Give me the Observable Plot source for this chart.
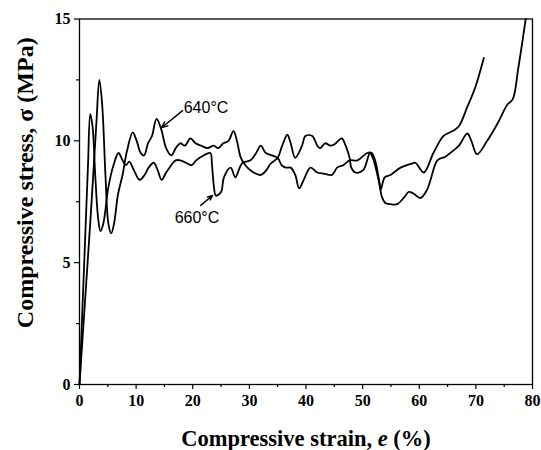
<!DOCTYPE html>
<html>
<head>
<meta charset="utf-8">
<script src="https://cdn.jsdelivr.net/npm/d3@7"></script>
<script src="https://cdn.jsdelivr.net/npm/@observablehq/plot@0.6"></script>
<style>
  html, body { margin: 0; padding: 0; background: #fff; }
  #chart { width: 541px; height: 450px; }
</style>
</head>
<body>
<div id="chart"></div>
<script>
// 640°C curve
const strain640 = [0, 1.0, 2.0, 3.0, 3.5, 4.0, 4.6, 5.1, 5.6, 6.1, 6.8, 7.6, 8.4, 9.4, 10.1, 10.8, 11.4, 12.1, 12.8, 13.6, 14.4, 15.3, 16.2, 17.0, 17.8, 18.6, 19.6, 20.5, 21.5, 22.6, 23.7, 24.5, 25.4, 26.3, 27.2, 27.8, 28.5, 29.3, 30.4, 32.0, 33.0, 33.7, 34.5, 35.0, 35.8, 36.7, 37.3, 38.1, 39.3, 39.9, 41.1, 42.0, 42.5, 43.4, 44.3, 45.0, 46.3, 47.0, 47.7, 48.0, 48.7, 50.1, 51.3, 51.8, 52.2, 52.9, 53.2, 53.9, 54.9, 56.7, 58.5, 59.3, 60.8, 62.5, 64.3, 65.9, 67.0, 68.5, 69.9, 71.4];
const stress640 = [0, 3.5, 7.0, 10.8, 12.5, 11.5, 8.5, 6.6, 6.2, 6.6, 7.8, 8.6, 9.6, 10.35, 10.0, 9.5, 9.4, 9.9, 10.2, 10.9, 10.5, 9.7, 9.4, 9.7, 9.9, 9.8, 10.1, 9.9, 9.8, 9.7, 9.8, 9.7, 9.9, 10.0, 10.4, 10.0, 9.3, 9.0, 8.75, 8.6, 8.8, 9.05, 9.2, 9.3, 9.8, 10.25, 9.9, 9.3, 9.8, 10.2, 10.2, 9.8, 9.7, 9.9, 9.8, 9.85, 10.1, 9.8, 9.3, 8.9, 8.7, 8.8, 9.5, 9.3, 9.0, 8.3, 8.0, 8.5, 8.6, 8.9, 9.05, 9.1, 8.7, 9.5, 10.2, 10.4, 10.6, 11.4, 12.2, 13.4];

// 660°C curve
const strain660 = [0, 0.5, 1.0, 1.5, 1.9, 2.3, 2.8, 3.3, 3.7, 4.2, 5.1, 6.0, 6.9, 7.6, 8.2, 8.8, 9.6, 10.6, 11.5, 12.2, 13.1, 13.8, 14.5, 15.3, 16.2, 17.0, 17.8, 18.8, 19.8, 20.6, 21.9, 23.1, 23.4, 23.7, 24.1, 25.0, 25.5, 26.7, 27.5, 28.3, 28.8, 30.2, 31.2, 32.0, 32.9, 34.0, 35.0, 35.7, 36.4, 37.3, 38.1, 38.8, 39.6, 40.8, 42.0, 43.2, 44.6, 45.5, 46.6, 47.7, 49.1, 50.8, 51.6, 52.2, 52.9, 53.4, 54.0, 54.9, 56.1, 57.4, 58.1, 58.9, 60.2, 61.4, 62.0, 63.2, 64.6, 66.0, 67.0, 68.5, 69.2, 70.2, 72.0, 73.8, 75.6, 76.5, 77.5, 78.8];
const stress660 = [0, 3.0, 6.0, 9.0, 11.1, 10.6, 8.5, 6.8, 6.3, 6.6, 8.1, 9.0, 9.5, 9.2, 9.0, 9.15, 8.8, 8.4, 8.6, 8.9, 9.1, 8.8, 8.4, 8.7, 9.0, 9.2, 9.2, 9.1, 9.0, 9.2, 9.4, 9.5, 9.0, 8.2, 7.75, 7.9, 8.5, 8.9, 8.5, 8.9, 9.1, 9.2, 9.5, 9.8, 9.5, 9.4, 9.3, 9.0, 8.9, 8.9, 8.6, 8.05, 8.4, 8.9, 8.7, 8.65, 8.6, 8.9, 9.0, 9.2, 9.2, 9.5, 9.5, 9.2, 8.4, 7.7, 7.45, 7.4, 7.4, 7.7, 7.9, 7.85, 7.65, 8.0, 8.4, 9.2, 9.35, 9.6, 9.8, 10.3, 10.0, 9.45, 10.0, 10.7, 11.5, 11.7, 13.0, 15.0];

// Axis ticks
const xTicks = [0, 10, 20, 30, 40, 50, 60, 70, 80];
const xMinorTicks = [5, 15, 25, 35, 45, 55, 65, 75];
const yTicks = [0, 5, 10, 15];
const yMinorTicks = [2.5, 7.5, 12.5];

// Annotations
const labelTexts = ["640°C", "660°C"];
const labelX = [18.4, 16.8];
const labelY = [11.37, 6.83];
const arrowX1 = [18.2, 21.4];
const arrowY1 = [11.24, 7.35];
const arrowX2 = [14.5, 23.5];
const arrowY2 = [10.54, 7.76];

const xLabel = "Compressive strain, e (%)";
const yLabel = "Compressive stress, σ (MPa)";

const d640 = strain640.map((x, i) => ({x, y: stress640[i]}));
const d660 = strain660.map((x, i) => ({x, y: stress660[i]}));
const labels = labelTexts.map((t, i) => ({t, x: labelX[i], y: labelY[i]}));
const arrows = arrowX1.map((x1, i) => ({x1, y1: arrowY1[i], x2: arrowX2[i], y2: arrowY2[i]}));

const serif = "'Liberation Serif', 'DejaVu Serif', serif";
const sans = "'Liberation Sans', Arial, sans-serif";

const chart = Plot.plot({
  width: 541,
  height: 450,
  marginLeft: 79,
  marginRight: 9,
  marginTop: 18.5,
  marginBottom: 66,
  style: {fontFamily: serif, fontSize: "16px", fontWeight: "bold", color: "#000", background: "#fff"},
  x: {domain: [0, 80], label: null},
  y: {domain: [0, 15], label: null},
  marks: [
    Plot.axisX({ticks: xTicks, tickSize: 5, tickPadding: 5, tickFormat: d => String(d), label: null, strokeWidth: 1.2}),
    Plot.axisX({ticks: xMinorTicks, tickSize: 3, text: null, label: null, strokeWidth: 1.2}),
    Plot.axisY({ticks: yTicks, tickSize: 5, tickPadding: 4, tickFormat: d => String(d), label: null, strokeWidth: 1.2}),
    Plot.axisY({ticks: yMinorTicks, tickSize: 3, text: null, label: null, strokeWidth: 1.2}),
    Plot.frame({stroke: "#000", strokeWidth: 1.3}),
    Plot.line(d640, {x: "x", y: "y", stroke: "#000", strokeWidth: 1.8, curve: "catmull-rom"}),
    Plot.line(d660, {x: "x", y: "y", stroke: "#000", strokeWidth: 1.8, curve: "catmull-rom"}),
    Plot.arrow(arrows, {x1: "x1", y1: "y1", x2: "x2", y2: "y2", stroke: "#000", strokeWidth: 1.4, headLength: 7, headAngle: 45}),
    Plot.text(labels, {x: "x", y: "y", text: "t", textAnchor: "start", fontFamily: sans, fontWeight: "normal", fontSize: 16, fill: "#000"}),
    Plot.text([xLabel], {frameAnchor: "bottom", dy: 54, textAnchor: "middle", lineAnchor: "middle", text: d => d, fontSize: 22.5, fontWeight: "bold", fontFamily: serif, fill: "#000"}),
    Plot.text([yLabel], {frameAnchor: "left", dx: -54, dy: -19, rotate: -90, textAnchor: "middle", lineAnchor: "middle", text: d => d, fontSize: 24, fontWeight: "bold", fontFamily: serif, fill: "#000"})
  ]
});

document.getElementById("chart").appendChild(chart);

// Italicize the "e" in the x label
const xl = Array.from(chart.querySelectorAll("text")).find(t => t.textContent === xLabel);
if (xl) {
  xl.textContent = "";
  const parts = [["Compressive strain, ", "normal"], ["e", "italic"], [" (%)", "normal"]];
  for (const [s, st] of parts) {
    const ts = document.createElementNS("http://www.w3.org/2000/svg", "tspan");
    ts.textContent = s;
    ts.setAttribute("font-style", st);
    ts.style.fontStyle = st;
    xl.appendChild(ts);
  }
}
</script>
</body>
</html>
